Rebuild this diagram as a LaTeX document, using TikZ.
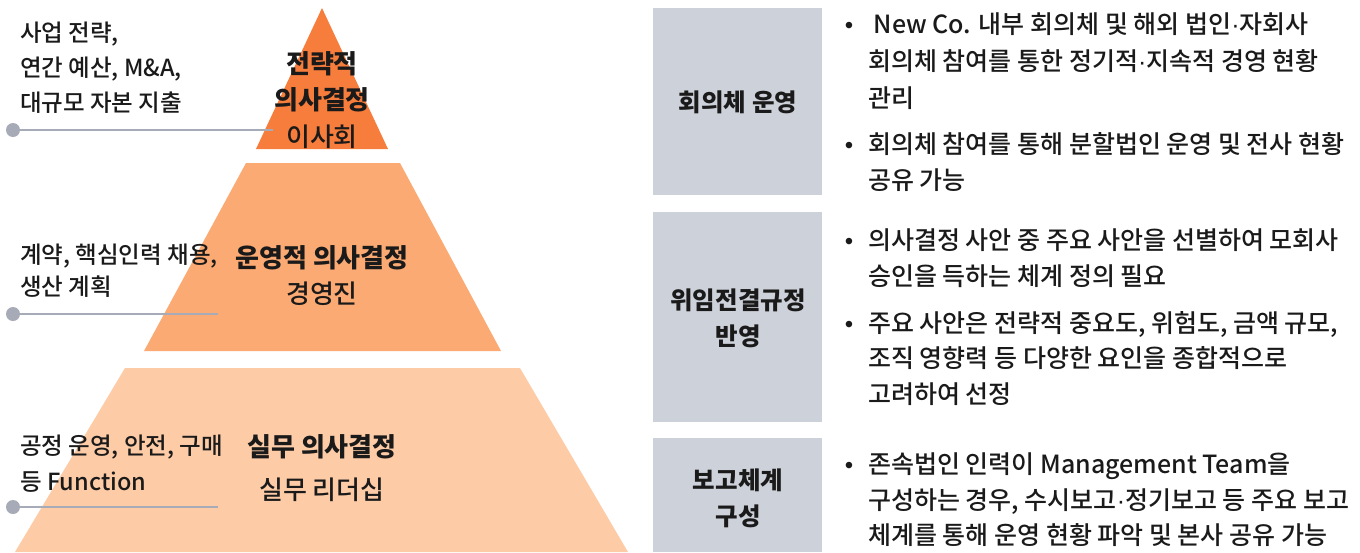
\documentclass[tikz,border=0pt]{standalone}
\usepackage{fontspec}
\setmainfont{Noto Sans CJK KR}
\newfontfamily\krm{Noto Sans CJK KR Medium}
\newfontfamily\latn{Liberation Sans}
\newcommand{\md}{{\latn ·}}
\definecolor{topc}{HTML}{F67D3C}
\definecolor{midc}{HTML}{FBAA73}
\definecolor{botc}{HTML}{FDCBA6}
\definecolor{boxc}{HTML}{CDD1D9}
\definecolor{linec}{HTML}{A6ABB7}
\definecolor{txt}{HTML}{1A1A1A}
\tikzset{
  lt/.style={anchor=base west,inner sep=0pt,text=txt,font=\krm\fontsize{23.5}{27}\selectfont},
  rt/.style={anchor=base west,inner sep=0pt,text=txt,font=\krm\fontsize{25}{29}\selectfont},
  bul/.style={anchor=base,inner sep=0pt,text=txt,font=\latn\fontsize{24}{28}\selectfont},
  pb/.style={anchor=base,inner sep=0pt,text=txt,font=\fontsize{26}{30}\selectfont\bfseries},
  pr/.style={anchor=base,inner sep=0pt,text=txt,font=\krm\fontsize{26}{30}\selectfont},
  bl/.style={anchor=base,inner sep=0pt,text=txt,font=\fontsize{24.5}{28}\selectfont\bfseries},
  box/.style={fill=boxc,draw=none},
  lead/.style={draw=linec,line width=2pt},
  dot/.style={circle,fill=linec,inner sep=0pt,minimum size=14pt}
}
\begin{document}
\begin{tikzpicture}[x=1pt,y=-1pt]
\useasboundingbox (0,0) rectangle (1360,552);
% pyramid
\fill[botc] (125,368) -- (520,368) -- (628,552) -- (15,552) -- cycle;
\fill[midc] (246,163) -- (400,163) -- (501,351) -- (144,351) -- cycle;
\fill[topc] (322,8) -- (388,149) -- (256,149) -- cycle;
% leaders
\node[dot] (d1) at (13,130) {};
\node[dot] (d2) at (13,314) {};
\node[dot] (d3) at (13,507) {};
\coordinate (e1) at (273,130);
\coordinate (e2) at (218,314);
\coordinate (e3) at (218,507);
\draw[lead] (d1.center) -- (e1);
\draw[lead] (d2.center) -- (e2);
\draw[lead] (d3.center) -- (e3);
% left texts
\node[lt] (a1) at (20,41) {사업 전략,};
\node[lt] (a2) at (20,76) {연간 예산, M\&A,};
\node[lt] (a3) at (20,111) {대규모 자본 지출};
\node[lt] (b1) at (20,263) {계약, 핵심인력 채용,};
\node[lt] (b2) at (20,295) {생산 계획};
\node[lt] (c1) at (20,454) {공정 운영, 안전, 구매};
\node[lt] (c2) at (20,490) {등 Function};
% pyramid labels
\node[pb] (p1) at (322,73) {전략적};
\node[pb] (p2) at (322,109) {의사결정};
\node[pr] (p3) at (322,146) {이사회};
\node[pb] (q1) at (322,267) {운영적 의사결정};
\node[pr] (q2) at (322,303) {경영진};
\node[pb] (r1) at (322,456) {실무 의사결정};
\node[pr] (r2) at (322,499) {실무 리더십};
% right boxes
\fill[box] (653,8) rectangle (822,195);
\fill[box] (653,212) rectangle (822,422);
\fill[box] (653,438) rectangle (822,552);
\node[bl] (k1) at (738,111) {회의체 운영};
\node[bl] (k2) at (738,309) {위임전결규정};
\node[bl] (k3) at (738,345) {반영};
\node[bl] (k4) at (738,489) {보고체계};
\node[bl] (k5) at (738,525) {구성};
% bullets
\node[bul] (u1) at (849,33) {•};
\node[bul] (u2) at (849,153) {•};
\node[bul] (u3) at (849,249) {•};
\node[bul] (u4) at (849,332) {•};
\node[bul] (u5) at (849,473) {•};
\node[rt] (t1) at (868,33) {\ New Co. 내부 회의체 및 해외 법인\md 자회사};
\node[rt] (t2) at (868,70) {회의체 참여를 통한 정기적\md 지속적 경영 현황};
\node[rt] (t3) at (868,107) {관리};
\node[rt] (t4) at (868,153) {회의체 참여를 통해 분할법인 운영 및 전사 현황};
\node[rt] (t5) at (868,189) {공유 가능};
\node[rt] (t6) at (868,249) {의사결정 사안 중 주요 사안을 선별하여 모회사};
\node[rt] (t7) at (868,285) {승인을 득하는 체계 정의 필요};
\node[rt] (t8) at (868,332) {주요 사안은 전략적 중요도, 위험도, 금액 규모,};
\node[rt] (t9) at (868,367) {조직 영향력 등 다양한 요인을 종합적으로};
\node[rt] (t10) at (868,403) {고려하여 선정};
\node[rt] (t11) at (868,473) {존속법인 인력이 Management Team을};
\node[rt] (t12) at (868,509) {구성하는 경우, 수시보고\md 정기보고 등 주요 보고};
\node[rt] (t13) at (868,544) {체계를 통해 운영 현황 파악 및 본사 공유 가능};
\end{tikzpicture}
\end{document}
